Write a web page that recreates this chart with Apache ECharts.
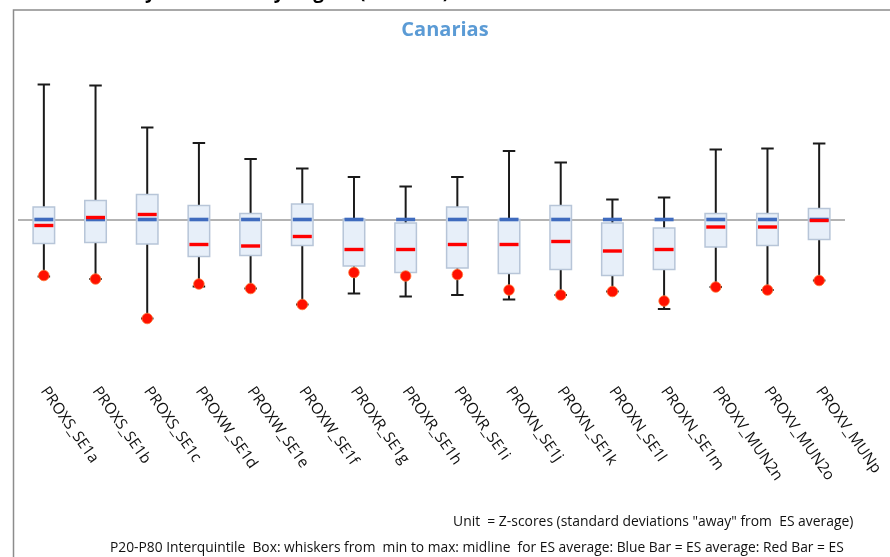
<!DOCTYPE html>
<html><head><meta charset="utf-8">
<script src="https://cdn.jsdelivr.net/npm/echarts@6/dist/echarts.min.js"></script>
<style>html,body{margin:0;padding:0;background:#fff;overflow:hidden}#c{width:890px;height:557px}</style>
</head><body><div id="c"></div>
<script>
// ---- data (Z-scores) ----
const categories = ['PROXS_SE1a','PROXS_SE1b','PROXS_SE1c','PROXW_SE1d','PROXW_SE1e','PROXW_SE1f','PROXR_SE1g','PROXR_SE1h','PROXR_SE1i','PROXN_SE1j','PROXN_SE1k','PROXN_SE1l','PROXN_SE1m','PROXV_MUN2n','PROXV_MUN2o','PROXV_MUNp'];
const maxVals    = [2.70, 2.68, 1.84, 1.53, 1.21, 1.02, 0.85, 0.66, 0.85, 1.37, 1.14, 0.40, 0.44, 1.40, 1.42, 1.52];
const p80Vals    = [0.25, 0.38, 0.50, 0.28, 0.12, 0.31, 0.01, -0.07, 0.25, 0.00, 0.28, -0.07, -0.17, 0.12, 0.12, 0.22];
const p20Vals    = [-0.48, -0.46, -0.49, -0.74, -0.72, -0.52, -0.93, -1.06, -0.97, -1.08, -1.00, -1.12, -1.00, -0.55, -0.52, -0.40];
const minVals    = [-1.14, -1.19, -1.98, -1.34, -1.38, -1.70, -1.48, -1.54, -1.51, -1.60, -1.51, -1.44, -1.79, -1.35, -1.41, -1.22];
const esAverage  = [0, 0, 0, 0, 0, 0, 0, 0, 0, 0, 0, 0, 0, 0, 0, 0];
const redBarVals = [-0.12, 0.04, 0.10, -0.50, -0.53, -0.34, -0.60, -0.60, -0.50, -0.50, -0.44, -0.63, -0.60, -0.15, -0.15, -0.02];
const regionDots = [-1.12, -1.19, -1.98, -1.29, -1.38, -1.70, -1.06, -1.13, -1.10, -1.41, -1.51, -1.44, -1.63, -1.35, -1.41, -1.22];

const chartTitle = 'Canarias';
const topCaption = 'Chart: Proximity Indicators by Region (Z-scores)';
const unitNote = 'Unit  = Z-scores (standard deviations "away" from  ES average)';
const legendNote = 'P20-P80 Interquintile  Box: whiskers from  min to max: midline  for ES average: Blue Bar = ES average: Red Bar = ES';

const chart = echarts.init(document.getElementById('c'), null, {renderer: 'canvas'});
const boxData = categories.map((c, i) => [i, minVals[i], p20Vals[i], p80Vals[i], maxVals[i], esAverage[i], redBarVals[i], regionDots[i]]);

function renderItem(params, api) {
  const i = api.value(0);
  const P = v => api.coord([i, v]);
  const cx = P(0)[0];
  const yMin = P(api.value(1))[1], yQ1 = P(api.value(2))[1], yQ3 = P(api.value(3))[1], yMax = P(api.value(4))[1];
  const yBlue = P(api.value(5))[1], yRed = P(api.value(6))[1], yDot = P(api.value(7))[1];
  const boxW = 21.5, capW = 12.5, barW = 19;
  const wl = {stroke: '#1a1a1a', lineWidth: 2};
  return {
    type: 'group',
    children: [
      {type: 'line', shape: {x1: cx, y1: yMax, x2: cx, y2: yQ3}, style: wl},
      {type: 'line', shape: {x1: cx, y1: yQ1, x2: cx, y2: yMin}, style: wl},
      {type: 'line', shape: {x1: cx - capW / 2, y1: yMax, x2: cx + capW / 2, y2: yMax}, style: wl},
      {type: 'line', shape: {x1: cx - capW / 2, y1: yMin, x2: cx + capW / 2, y2: yMin}, style: wl},
      {type: 'rect', shape: {x: cx - boxW / 2, y: yQ3, width: boxW, height: yQ1 - yQ3}, style: {fill: '#E7EFF9', stroke: '#B7C5D8', lineWidth: 1.5}},
      {type: 'rect', shape: {x: cx - barW / 2, y: yBlue - 1.8, width: barW, height: 3.6}, style: {fill: '#3F6BBE'}},
      {type: 'rect', shape: {x: cx - barW / 2, y: yRed - 1.7, width: barW, height: 3.4}, style: {fill: '#FF0000'}},
      {type: 'circle', shape: {cx: cx, cy: yDot, r: 5.3}, style: {fill: '#FF1000', stroke: '#FF7A3A', lineWidth: 0.8}}
    ]
  };
}

chart.setOption({
  animation: false,
  backgroundColor: '#ffffff',
  title: {
    text: chartTitle, left: 'center', top: 15,
    textStyle: {color: '#5B9BD5', fontSize: 20, fontWeight: 'bold', fontFamily: 'Open Sans'}
  },
  grid: {left: 18, right: 45, top: 69.5, bottom: 182.5, containLabel: false},
  xAxis: {
    type: 'category', data: categories, boundaryGap: true,
    axisLine: {show: false, onZero: false}, axisTick: {show: false}, splitLine: {show: false},
    axisLabel: {interval: 0, rotate: -55, margin: 14, color: '#111', fontSize: 15.4, fontFamily: 'Open Sans'}
  },
  yAxis: {
    type: 'value', min: -3.1, max: 3, show: false, splitLine: {show: false}
  },
  series: [
    {
      type: 'line', data: [], z: 1, silent: true,
      markLine: {silent: true, z: 1, symbol: 'none', label: {show: false},
        lineStyle: {color: '#9A9A9A', width: 1.5, type: 'solid'}, data: [{yAxis: 0}]}
    },
    {type: 'custom', z: 10, renderItem: renderItem, data: boxData, encode: {x: 0, y: [1, 4]}}
  ],
  graphic: [
    {type: 'rect', left: 11, top: 7.5, z: 0, shape: {width: 900, height: 600}, style: {fill: 'none', stroke: '#8C8C8C', lineWidth: 1.5}},
    {type: 'text', x: 0, y: -17, style: {text: topCaption, font: 'bold 19px "Open Sans"', fill: '#000'}},
    {type: 'text', left: 453, top: 515, style: {text: unitNote, font: '13.9px "Open Sans"', fill: '#111'}},
    {type: 'text', left: 110, top: 541, style: {text: legendNote, font: '13.8px "Open Sans"', fill: '#111'}}
  ]
});
</script></body></html>
